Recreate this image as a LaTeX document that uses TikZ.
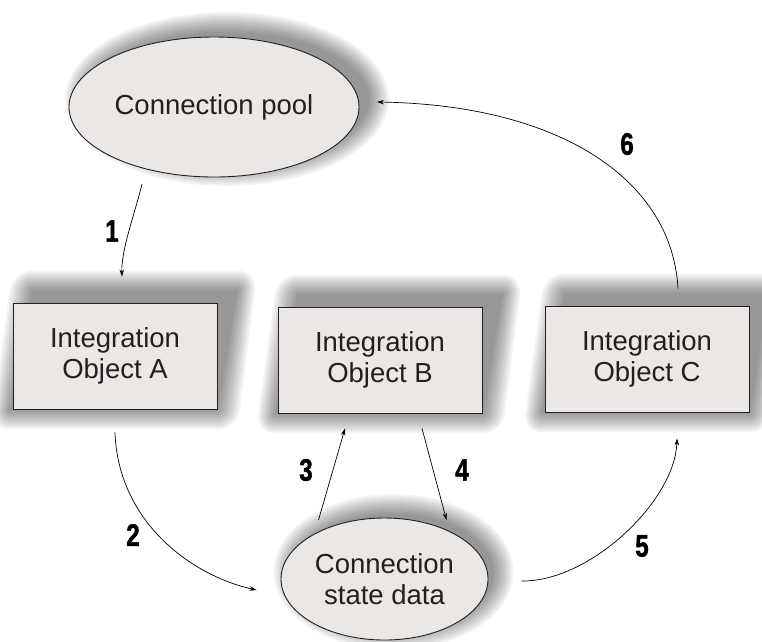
\documentclass[tikz,border=0pt]{standalone}
\usepackage{fontspec}
\setmainfont{Liberation Sans}
\newfontfamily\stepfont{Liberation Sans}[BoldFeatures={FakeBold=1.6}]
\usepackage{graphicx}
\usetikzlibrary{shapes.geometric,arrows.meta,calc,backgrounds}

\definecolor{shapefill}{HTML}{EAE7E4}
\definecolor{inkgray}{HTML}{231F20}

\tikzset{
  objbox/.style={rectangle, draw=inkgray, line width=0.9pt, fill=shapefill,
    minimum width=204pt, minimum height=106pt, inner sep=0pt, align=center,
    font=\fontsize{27.5}{31}\selectfont, text=inkgray},
  dataoval/.style={ellipse, draw=inkgray, line width=0.9pt, fill=shapefill,
    inner sep=0pt, align=center, font=\fontsize{27.5}{31}\selectfont, text=inkgray},
  flow/.style={line width=0.7pt, draw=black, -{Stealth[length=7pt,width=4.5pt]}},
  steplabel/.style={font=\fontsize{31}{31}\stepfont\bfseries, text=black, inner sep=0pt},
  shade/.style={fill=black, opacity=0.048},
}

% soft slanted shadow behind a box
\newcommand{\boxshade}[1]{%
  \foreach \r in {0,2,...,20}{
    \fill[shade, rounded corners=\r pt]
      ($(#1.south west)+(-2-\r,0+\r)$) --
      ($(#1.south east)+(0+\r,0+\r)$) --
      ($(#1.north east)+(20+\r,-12-\r)$) --
      ($(#1.north west)+(20-\r,-12-\r)$) -- cycle;
  }}
% soft shadow behind an oval
\newcommand{\ovalshade}[5]{%
  \foreach \r in {0,2,...,20}{
    \fill[shade] ($(#1.center)+(#2,#3)$) ellipse [x radius=#4pt+\r pt, y radius=#5pt+\r pt];
  }}

\begin{document}
\begin{tikzpicture}[x=1pt,y=-1pt]
\useasboundingbox (0,0) rectangle (762,641);

% nodes
\node[dataoval, minimum width=290pt, minimum height=140pt] (pool) at (214,107) {Connection pool};
\node[objbox] (objA) at (115,356) {Integration\\Object A};
\node[objbox] (objB) at (380,360) {Integration\\Object B};
\node[objbox] (objC) at (647,359) {Integration\\Object C};
\node[dataoval, minimum width=207pt, minimum height=122pt] (state) at (384.5,579) {Connection\\state data};

% shadows
\begin{pgfonlayer}{background}
  \ovalshade{pool}{13}{-8}{142}{67}
  \ovalshade{state}{9}{-7}{100}{58}
  \boxshade{objA}
  \boxshade{objB}
  \boxshade{objC}
\end{pgfonlayer}

% connector end points
\coordinate (p1s) at ($(pool.center)+(-72,77)$);
\coordinate (p1e) at ($(objA.north)+(7,-26)$);
\coordinate (p2s) at ($(objA.south)+(0,23)$);
\coordinate (p2e) at ($(state.west)+(-24,11)$);
\coordinate (p3s) at ($(state.center)+(-66,-59)$);
\coordinate (p3e) at ($(objB.south)+(-35,15)$);
\coordinate (p4s) at ($(objB.south)+(42,15)$);
\coordinate (p4e) at ($(state.center)+(62,-59)$);
\coordinate (p5s) at ($(state.east)+(33,2)$);
\coordinate (p5e) at ($(objC.south)+(30,26)$);
\coordinate (p6s) at ($(objC.north)+(31,-17)$);
\coordinate (p6e) at ($(pool.center)+(163,-5)$);

% connectors
\draw[flow] (p1s) .. controls +(-6,26) and +(-1,-27) .. (p1e);
\draw[flow] (p2s) .. controls +(3,88) and +(-67,-15) .. (p2e);
\draw[flow] (p3s) -- (p3e);
\draw[flow] (p4s) -- (p4e);
\draw[flow] (p5s) .. controls +(69,1) and +(-2,62) .. (p5e);
\draw[flow] (p6s) .. controls +(-6,-109) and +(183,3) .. (p6e);

% step numbers
\node[steplabel] (n1) at (112,231) {\scalebox{0.78}[1]{1}};
\node[steplabel] (n2) at (133,535) {\scalebox{0.78}[1]{2}};
\node[steplabel] (n3) at (306,470) {\scalebox{0.78}[1]{3}};
\node[steplabel] (n4) at (462,470) {\scalebox{0.78}[1]{4}};
\node[steplabel] (n5) at (642,546) {\scalebox{0.78}[1]{5}};
\node[steplabel] (n6) at (627,144) {\scalebox{0.78}[1]{6}};
\end{tikzpicture}
\end{document}
